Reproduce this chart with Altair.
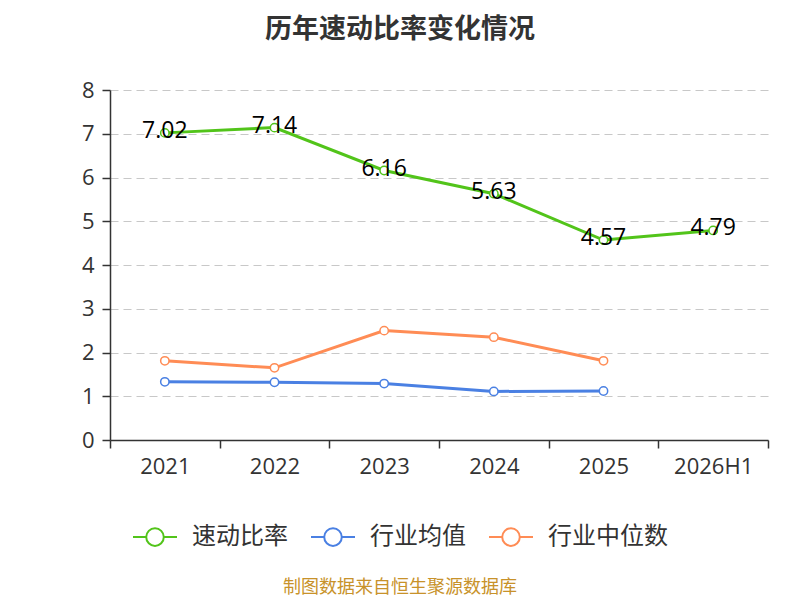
import altair as alt
import pandas as pd

years = ["2021", "2022", "2023", "2024", "2025", "2026H1"]
quick_ratio = [7.02, 7.14, 6.16, 5.63, 4.57, 4.79]
industry_avg = [1.33, 1.32, 1.29, 1.11, 1.12, None]
industry_median = [1.81, 1.65, 2.50, 2.35, 1.81, None]
series_names = ["速动比率", "行业均值", "行业中位数"]
colors = ["#52c41a", "#4a80e3", "#ff8c55"]

rows = []
for name, vals in zip(series_names, [quick_ratio, industry_avg, industry_median]):
    for y, v in zip(years, vals):
        if v is not None:
            rows.append({"year": y, "value": v, "series": name})
df = pd.DataFrame(rows)
df_main = df[df["series"] == "速动比率"]

FONT = "Noto Sans CJK SC"
NUMFONT = "Open Sans"

legend_path = ("M-1,0L-0.4,0M0.4,0L1,0"
               "M-0.4,0A0.4,0.4 0 1,1 0.4,0A0.4,0.4 0 1,1 -0.4,0Z")

x_enc = alt.X("year:N", sort=years, title=None,
              scale=alt.Scale(paddingInner=0, paddingOuter=0),
              axis=alt.Axis(labelAngle=0, labelFontSize=22, labelColor="#333",
                            labelPadding=8, domainColor="#333", domainWidth=1.5,
                            tickColor="#333", tickSize=8, tickWidth=1.5,
                            tickBand="extent", grid=False, labelFont=NUMFONT))
y_enc = alt.Y("value:Q", title=None,
              scale=alt.Scale(domain=[0, 8], nice=False),
              axis=alt.Axis(values=[0, 1, 2, 3, 4, 5, 6, 7, 8], labelFontSize=22,
                            labelColor="#333", labelPadding=8, domainColor="#333",
                            domainWidth=1.5, tickColor="#333", tickSize=8,
                            tickWidth=1.5, grid=True, gridColor="#c8c8c8",
                            gridDash=[8, 5], gridWidth=1.2, labelFont=NUMFONT))
color_enc = alt.Color("series:N", sort=series_names,
                      scale=alt.Scale(domain=series_names, range=colors),
                      legend=alt.Legend(title=None, orient="none", direction="horizontal",
                                        legendX=22, legendY=424,
                                        symbolType=legend_path, symbolSize=1936,
                                        symbolStrokeWidth=2, symbolFillColor="white",
                                        labelFontSize=24, labelColor="#333",
                                        labelFont=FONT, labelOffset=14,
                                        columnPadding=19))

lines = alt.Chart(df).mark_line(
    strokeWidth=3,
    point=alt.OverlayMarkDef(filled=False, fill="white", size=70, strokeWidth=1.5),
).encode(x=x_enc, y=y_enc, color=color_enc)

labels = alt.Chart(df_main).mark_text(
    fontSize=23, color="#000", baseline="middle", dy=-2, font=NUMFONT
).encode(x=alt.X("year:N", sort=years), y="value:Q", text=alt.Text("value:Q", format=".2f"))

source = alt.Chart(pd.DataFrame({"t": ["制图数据来自恒生聚源数据库"]})).mark_text(
    fontSize=18, color="#c8922a", font=FONT, baseline="middle"
).encode(x=alt.value(290), y=alt.value(498), text="t:N")

chart = alt.layer(lines, labels, source).properties(
    width=658, height=350,
    title=alt.TitleParams("历年速动比率变化情况", fontSize=27, fontWeight="bold",
                          color="#333", font=FONT, anchor="middle", offset=35,
                          dx=-39),
    padding={"left": 102, "top": 82, "right": 24, "bottom": 160},
    autosize=alt.AutoSizeParams(type="none"),
).configure_view(stroke=None)

chart.save("out.html", embed_options={"renderer": "svg", "actions": False})
